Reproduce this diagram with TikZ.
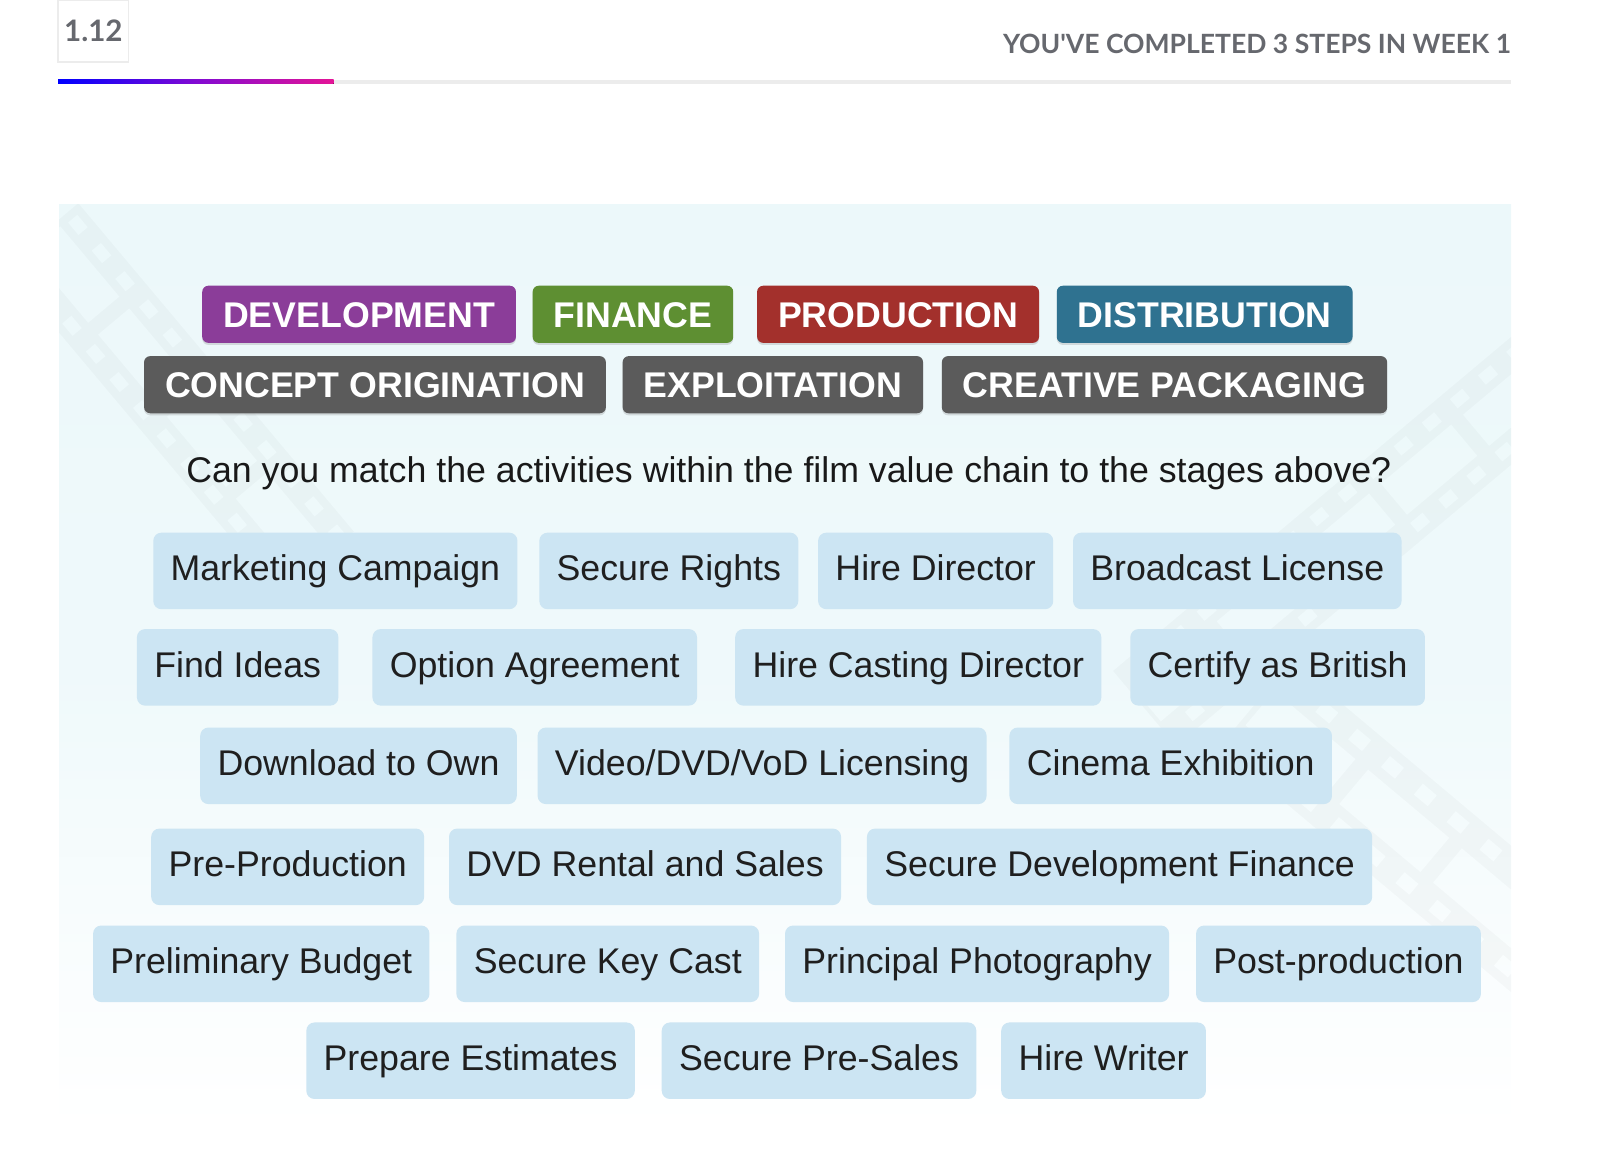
\documentclass[tikz,border=0pt]{standalone}
\usepackage{fontspec}
\setmainfont{Liberation Sans}
\newfontfamily\headfont{Lato}
\usetikzlibrary{positioning, shadows}

\definecolor{devpurple}{RGB}{139,61,153}
\definecolor{fingreen}{RGB}{94,143,50}
\definecolor{prodred}{RGB}{163,48,44}
\definecolor{distblue}{RGB}{47,114,144}
\definecolor{stagegray}{RGB}{91,91,91}
\definecolor{actblue}{RGB}{204,229,243}
\definecolor{panelblue}{RGB}{236,248,250}
\definecolor{headgray}{RGB}{102,104,110}
\definecolor{bargray}{RGB}{236,236,236}

\tikzset{
  stage/.style={rounded corners=6pt, text=white,
    font=\fontsize{35}{40}\selectfont\bfseries,
    minimum height=56pt, inner xsep=20.5pt, inner ysep=0pt,
    text height=25pt, text depth=0pt,
    drop shadow={shadow xshift=0pt, shadow yshift=-2pt, opacity=0.25}},
  activity/.style={rounded corners=8pt, fill=actblue, text=black!88,
    font=\fontsize{35}{40}\selectfont,
    minimum height=75pt, inner xsep=17pt, inner ysep=0pt,
    text height=26pt, text depth=7pt},
  strip/.style={fill=black, opacity=0.025, even odd rule}
}

\begin{document}
\begin{tikzpicture}[x=1pt, y=-1pt]
    \useasboundingbox (0,0) rectangle (1568,1128);

    % Add the header
        \node[draw=bargray,
              line width=1.5pt,
              minimum width=69pt,
              minimum height=61pt,
              text=headgray,
              font=\headfont\fontsize{29}{32}\selectfont\bfseries] (step) at (91.5,30.5) {1.12};
        \node[anchor=east,
              text=headgray,
              inner sep=0pt,
              font=\headfont\fontsize{26}{30}\selectfont\bfseries] (done) at (1481,43) {YOU'VE COMPLETED 3 STEPS IN WEEK 1};
        \fill[bargray] (327,78) rectangle (1481,82);
        \fill[left color=blue, right color={rgb,255:red,228;green,20;blue,150},
              middle color={rgb,255:red,130;green,10;blue,210}] (57,78) rectangle (327,82);

    % Add the panel
        \fill[top color=panelblue, bottom color=white, middle color=panelblue!85!white]
            (58,200) rectangle (1481,1105);
        \begin{scope}
        \clip (58,200) rectangle (1481,1105);
            \fill[strip, shift={(40,230)}, rotate=-50]
                (0,-48) rectangle (420,48)
                \foreach \i in {0,36,...,400} {(\i+8,-40) rectangle (\i+24,-28) (\i+8,28) rectangle (\i+24,40)}
                \foreach \i in {0,105,...,400} {(\i+6,-20) rectangle (\i+96,20)};
            \fill[strip, shift={(1520,360)}, rotate=-140]
                (0,-48) rectangle (520,48)
                \foreach \i in {0,36,...,500} {(\i+8,-40) rectangle (\i+24,-28) (\i+8,28) rectangle (\i+24,40)}
                \foreach \i in {0,105,...,500} {(\i+6,-20) rectangle (\i+96,20)};
            \fill[strip, shift={(1230,690)}, rotate=-40]
                (0,-55) rectangle (420,55)
                \foreach \i in {0,42,...,400} {(\i+8,-46) rectangle (\i+26,-32) (\i+8,32) rectangle (\i+26,46)}
                \foreach \i in {0,120,...,400} {(\i+6,-22) rectangle (\i+110,22)};
        \end{scope}

    % Add the stages
        \node[stage, fill=devpurple, anchor=west] (dev) at (198,308) {DEVELOPMENT};
        \node[stage, fill=fingreen, right=16pt of dev] (fin) {FINANCE};
        \node[stage, fill=prodred, right=23pt of fin] (prod) {PRODUCTION};
        \node[stage, fill=distblue, right=17pt of prod] (dist) {DISTRIBUTION};
        \node[stage, fill=stagegray, anchor=west] (concept) at (141,377) {CONCEPT ORIGINATION};
        \node[stage, fill=stagegray, right=16pt of concept] (exploit) {EXPLOITATION};
        \node[stage, fill=stagegray, right=18pt of exploit] (package) {CREATIVE PACKAGING};

    % Add the question
        \node[text=black!90,
              font=\fontsize{35}{40}\selectfont] (ask) at (773,464)
              {Can you match the activities within the film value chain to the stages above?};

    % Add the activities
        \node[activity, anchor=west] (mkt) at (150,559.5) {Marketing Campaign};
        \node[activity, right=21pt of mkt] (rights) {Secure Rights};
        \node[activity, right=19pt of rights] (director) {Hire Director};
        \node[activity, right=19pt of director] (broadcast) {Broadcast License};

        \node[activity, anchor=west] (ideas) at (134,654) {Find Ideas};
        \node[activity, right=33pt of ideas] (option) {Option Agreement};
        \node[activity, right=37pt of option] (casting) {Hire Casting Director};
        \node[activity, right=28pt of casting] (british) {Certify as British};

        \node[activity, anchor=west] (download) at (196,750.5) {Download to Own};
        \node[activity, right=20pt of download] (vod) {Video/DVD/VoD Licensing};
        \node[activity, right=22pt of vod] (cinema) {Cinema Exhibition};

        \node[activity, anchor=west] (prepro) at (148,849.5) {Pre-Production};
        \node[activity, right=24pt of prepro] (dvd) {DVD Rental and Sales};
        \node[activity, right=25pt of dvd] (devfin) {Secure Development Finance};

        \node[activity, anchor=west] (budget) at (91,944.5) {Preliminary Budget};
        \node[activity, right=26pt of budget] (keycast) {Secure Key Cast};
        \node[activity, right=25pt of keycast] (photo) {Principal Photography};
        \node[activity, right=26pt of photo] (post) {Post-production};

        \node[activity, anchor=west] (estimates) at (300,1039.5) {Prepare Estimates};
        \node[activity, right=26pt of estimates] (presales) {Secure Pre-Sales};
        \node[activity, right=24pt of presales] (writer) {Hire Writer};
\end{tikzpicture}
\end{document}
